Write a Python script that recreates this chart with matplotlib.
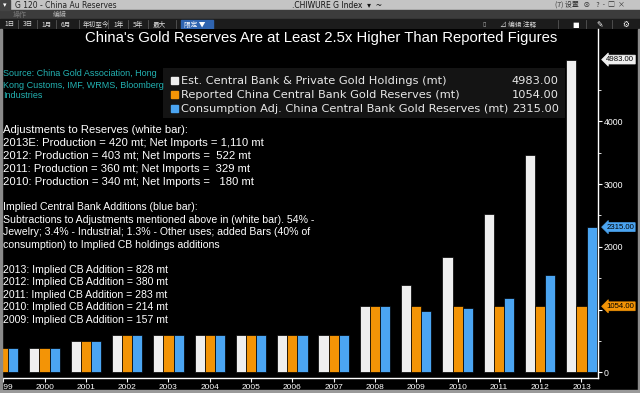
import matplotlib
matplotlib.use('Agg')
import matplotlib.pyplot as plt
from matplotlib.patches import Rectangle
import numpy as np

# data (metric tonnes)
years = [1999, 2000, 2001, 2002, 2003, 2004, 2005, 2006, 2007,
         2008, 2009, 2010, 2011, 2012, 2013]
est_holdings = [395, 395, 500, 600, 600, 600, 600, 600, 600,
                1054, 1390, 1840, 2530, 3470, 4983]
reported = [395, 395, 500, 600, 600, 600, 600, 600, 600,
            1054, 1054, 1054, 1054, 1054, 1054]
consumption_adj = [395, 395, 500, 600, 600, 600, 600, 600, 600,
                   1054, 985, 1020, 1180, 1550, 2315]
series_names = ["Est. Central Bank & Private Gold Holdings (mt)",
                "Reported China Central Bank Gold Reserves (mt)",
                "Consumption Adj. China Central Bank Gold Reserves (mt)"]
last_values = ["4983.00", "1054.00", "2315.00"]
ytick_vals = [0, 1000, 2000, 3000, 4000]
ytick_labels = ["0", "", "2000", "3000", "4000"]  # 1000 sits under the tag

adjust_lines = ["Adjustments to Reserves (white bar):",
                "2013E: Production = 420 mt; Net Imports = 1,110 mt",
                "2012: Production = 403 mt; Net Imports =  522 mt",
                "2011: Production = 360 mt; Net Imports =  329 mt",
                "2010: Production = 340 mt; Net Imports =   180 mt"]
implied_lines = ["Implied Central Bank Additions (blue bar):",
                 "Subtractions to Adjustments mentioned above in (white bar). 54% -",
                 "Jewelry; 3.4% - Industrial; 1.3% - Other uses; added Bars (40% of",
                 "consumption) to Implied CB holdings additions"]
addition_lines = ["2013: Implied CB Addition = 828 mt",
                  "2012: Implied CB Addition = 380 mt",
                  "2011: Implied CB Addition = 283 mt",
                  "2010: Implied CB Addition = 214 mt",
                  "2009: Implied CB Addition = 157 mt"]
source_lines = ["Source: China Gold Association, Hong",
                "Kong Customs, IMF, WRMS, Bloomberg",
                "Industries"]
tabs = ["1日", "3日", "1月", "6月", "年初至今", "1年", "5年", "最大"]

WHITE = '#efefef'
ORANGE = '#f39406'
BLUE = '#4ba5f2'
W, H = 640, 393
CJK = ['Noto Sans CJK SC', 'DejaVu Sans']

fig = plt.figure(figsize=(6.4, 3.93), dpi=100, facecolor='black')


def px(x, y):
    return x / W, 1 - y / H


# ---- Bloomberg style header ----
hdr = fig.add_axes([0, 1 - 29 / H, 1, 29 / H])
hdr.set_xlim(0, W)
hdr.set_ylim(29, 0)
hdr.set_axis_off()
hdr.add_patch(Rectangle((0, 0), W, 9.5, color='#c4c4c4'))
hdr.add_patch(Rectangle((0, 9.5), W, 9.5, color='#3c3c3c'))
hdr.add_patch(Rectangle((0, 19), W, 10, color='#1c1c1c'))
hdr.add_patch(Rectangle((0, 0), 10, 9.5, color='#444444'))
hdr.text(5, 5, '▾', color='white', fontsize=5, ha='center', va='center')
hdr.text(15, 5, 'G 120 - China Au Reserves', color='#222222', fontsize=5.5,
         va='center')
hdr.text(292, 5, '.CHIWURE G Index  ▾  ~', color='#111111', fontsize=5.5,
         va='center')
hdr.text(555, 5, '(7) 设置   ⊗    ?  -  □  ×', color='#333333', fontsize=5,
         va='center', family=CJK)
hdr.text(13, 14.5, '操作', color='#777777', fontsize=5, va='center', family=CJK)
hdr.text(53, 14.5, '编辑', color='#bbbbbb', fontsize=5, va='center', family=CJK)
tab_x = [4, 23, 41, 61, 83, 113, 133, 153]
for tx, label in zip(tab_x, tabs):
    hdr.text(tx, 24.5, label, color='#dddddd', fontsize=4.8, va='center',
             family=CJK)
for sx in [18, 37, 56, 79, 108, 128, 148, 176]:
    hdr.plot([sx, sx], [20, 28.5], color='#555555', lw=0.6)
hdr.add_patch(Rectangle((181, 19.5), 32, 9.5, color='#2f64b0'))
hdr.text(184, 24.5, '限定 ▼', color='white', fontsize=4.8, va='center',
         family=CJK)
hdr.text(482, 24.5, '▯', color='#aaaaaa', fontsize=4.5, va='center')
hdr.text(500, 24.5, '⊿ 编辑 注释', color='#dddddd', fontsize=4.8, va='center',
         family=CJK)
for sx in [558, 586, 612]:
    hdr.plot([sx, sx], [20, 28.5], color='#555555', lw=0.6)
hdr.text(572, 24.5, '■', color='white', fontsize=5, va='center')
hdr.text(596, 24.5, '✎', color='white', fontsize=5.5, va='center')
hdr.text(622, 24.5, '⚙', color='white', fontsize=5.5, va='center')

# ---- main chart ----
ax = fig.add_axes([2 / W, (H - 377.5) / H, 596 / W, 348.5 / H])
ax.set_facecolor('black')
x = np.array(years)
bw = 0.245
ax.bar(x - bw, est_holdings, bw, color=WHITE, edgecolor='black', lw=0.5)
ax.bar(x, reported, bw, color=ORANGE, edgecolor='black', lw=0.5)
ax.bar(x + bw, consumption_adj, bw, color=BLUE, edgecolor='black', lw=0.5)
ax.set_xlim(1998.97, 2013.4)
ax.set_ylim(-80, 5470)

ax.set_xticks(years)
ax.set_xticklabels([str(y) for y in years])
ax.yaxis.tick_right()
ax.set_yticks(ytick_vals)
ax.set_yticklabels(ytick_labels)
ax.set_yticks([500, 1500, 2500, 3500, 4500], minor=True)
ax.tick_params(axis='x', colors='white', labelsize=6, length=3, width=0.8,
               pad=2)
ax.tick_params(axis='y', colors='white', labelsize=6.3, length=3, width=0.8,
               pad=1)
ax.tick_params(axis='y', which='minor', colors='white', length=2, width=0.6)
for lab in ax.get_xticklabels() + ax.get_yticklabels():
    lab.set_family('Liberation Sans')
for side in ['left', 'top']:
    ax.spines[side].set_visible(False)
for side in ['right', 'bottom']:
    ax.spines[side].set_color('white')
    ax.spines[side].set_linewidth(1)

# last value tags on the right axis
tag_colors = [WHITE, ORANGE, BLUE]
tag_vals = [est_holdings[-1], reported[-1], consumption_adj[-1]]
for val, txt, c in zip(tag_vals, last_values, tag_colors):
    ax.annotate(txt, xy=(1, val), xycoords=('axes fraction', 'data'),
                xytext=(6, 0), textcoords='offset points', va='center',
                ha='left', fontsize=5.6, color='black', family='Liberation Sans',
                annotation_clip=False, zorder=10,
                bbox=dict(boxstyle='larrow,pad=0.12', fc=c, ec=c, lw=0.5))

# title
fig.text(*px(321, 38), "China's Gold Reserves Are at Least 2.5x Higher Than Reported Figures",
         color='white', fontsize=10.7, ha='center', va='center',
         family='Liberation Sans')

# source
for i, line in enumerate(source_lines):
    fig.text(*px(3, 74 + i * 11), line, color='#23b3b3', fontsize=6.5,
             va='center', family='Liberation Sans')

# legend box
leg = fig.add_axes([163 / W, 1 - 118 / H, 402 / W, 50 / H])
leg.set_axis_off()
leg.set_xlim(163, 565)
leg.set_ylim(118, 68)
leg.add_patch(Rectangle((163, 68), 402, 50, color='#141414'))
for i, (name, val, c) in enumerate(zip(series_names, last_values, tag_colors)):
    yy = 80.5 + i * 14
    leg.add_patch(Rectangle((171, yy - 3.5), 7, 7, color=c))
    leg.text(181, yy, name, color='#e8e8e8', fontsize=8.2, va='center',
             family='DejaVu Sans')
    leg.text(559, yy, val, color='#e8e8e8', fontsize=8.2, va='center',
             ha='right', family='DejaVu Sans')

# notes
for i, line in enumerate(adjust_lines):
    fig.text(*px(3, 130 + i * 13), line, color='white', fontsize=8.1,
             va='center', family='Liberation Sans')
for i, line in enumerate(implied_lines):
    fig.text(*px(3, 207 + i * 12.6), line, color='white', fontsize=7.6,
             va='center', family='Liberation Sans')
for i, line in enumerate(addition_lines):
    fig.text(*px(3, 270 + i * 12.4), line, color='white', fontsize=7.6,
             va='center', family='Liberation Sans')

# window frame
frame = fig.add_axes([0, 0, 1, 1], facecolor='none')
frame.set_axis_off()
frame.set_xlim(0, W)
frame.set_ylim(H, 0)
frame.add_patch(Rectangle((0, 29), 1.8, H - 29, color='#8a8a8a'))
frame.add_patch(Rectangle((W - 1.8, 29), 1.8, H - 29, color='#8a8a8a'))
frame.add_patch(Rectangle((0, H - 3), W, 3, color='#9a9a9a'))

fig.savefig('out.png', dpi=100, facecolor='black')
